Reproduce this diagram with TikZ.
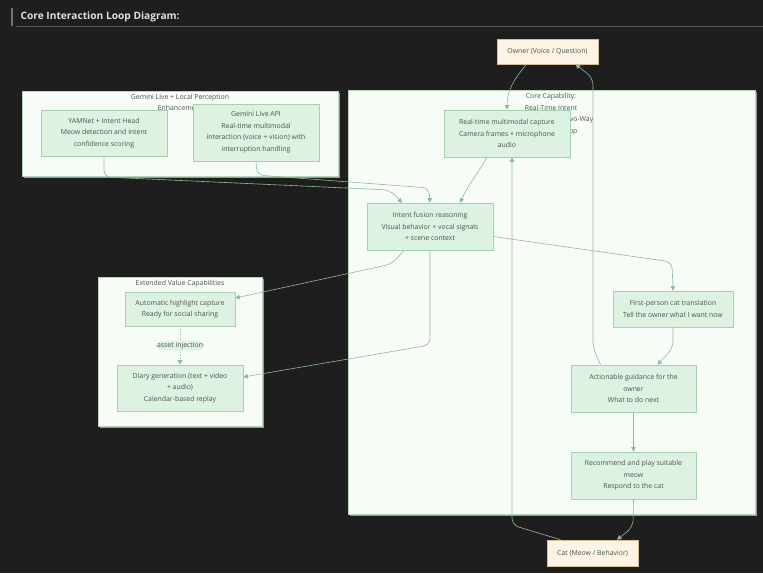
\documentclass[tikz,border=0pt]{standalone}
\usepackage{fontspec}
\setmainfont{Open Sans}
\usepackage{tikz}
\usetikzlibrary{positioning,arrows.meta,shadows}

\definecolor{bgdark}{HTML}{1E1E1E}
\definecolor{clusterfill}{HTML}{F8FCF7}
\definecolor{clusterline}{HTML}{B9D3BC}
\definecolor{stepfill}{HTML}{DDF2E0}
\definecolor{stepline}{HTML}{A6D0AE}
\definecolor{actorfill}{HTML}{FEF3E4}
\definecolor{actorline}{HTML}{D8BC96}
\definecolor{edgegreen}{HTML}{8DBB9A}
\definecolor{inktext}{HTML}{4A564D}

\begin{document}
\begin{tikzpicture}[x=1pt,y=-1pt,
  every node/.style={font=\fontsize{6.9}{11.5}\selectfont,text=inktext,align=center},
  stepbox/.style={draw=stepline,fill=stepfill,line width=0.6pt,inner sep=2pt,
    drop shadow={opacity=0.18,shadow xshift=0.8pt,shadow yshift=-0.8pt}},
  actorbox/.style={draw=actorline,fill=actorfill,line width=0.6pt,inner sep=2pt,
    drop shadow={opacity=0.25,shadow xshift=0.8pt,shadow yshift=-0.8pt}},
  groupbox/.style={draw=clusterline,fill=clusterfill,line width=0.6pt,
    drop shadow={fill=black!40,opacity=1,shadow xshift=1.6pt,shadow yshift=-1.6pt}},
  edge/.style={draw=edgegreen,line width=0.6pt,rounded corners=7pt,
    -{Triangle[length=4.5pt,width=4.5pt]}}]
  \fill[bgdark] (0,0) rectangle (763,573);
  \useasboundingbox (0,0) rectangle (763,573);
  \draw[line width=2pt,draw=black!55] (12,8) -- (12,26);
  \draw[line width=0.6pt,draw=black!65] (16,26) -- (763,26);
  \node[anchor=west,text=white!88!black,font=\fontsize{10.2}{12}\selectfont\bfseries] (title) at (17,17) {Core Interaction Loop Diagram:};

  \path[groupbox] (22,91) rectangle (338,176);
  \node (gemlabel) at (180,102.5) {Gemini Live + Local Perception\\Enhancement};
  \path[groupbox] (348,90) rectangle (755,514);
  \node (corelabel) at (551,114) {Core Capability:\\Real-Time Intent\\Understanding + Two-Way\\Interaction Loop};
  \path[groupbox] (98,277) rectangle (262,426);
  \node (extlabel) at (180,284) {Extended Value Capabilities};

  \node[actorbox,minimum width=101pt,minimum height=25pt] (owner) at (547.5,51.5) {Owner (Voice / Question)};
  \node[stepbox,minimum width=126pt,minimum height=46pt] (yamnet) at (104,133) {YAMNet + Intent Head\\Meow detection and intent\\confidence scoring};
  \node[stepbox,minimum width=126pt,minimum height=57pt] (liveapi) at (256,132.5) {Gemini Live API\\Real-time multimodal\\interaction (voice + vision) with\\interruption handling};
  \node[stepbox,minimum width=126pt,minimum height=47pt] (capture) at (507,133.5) {Real-time multimodal capture\\Camera frames + microphone\\audio};
  \node[stepbox,minimum width=126pt,minimum height=47pt] (fusion) at (430,226.5) {Intent fusion reasoning\\Visual behavior + vocal signals\\+ scene context};
  \node[stepbox,minimum width=110pt,minimum height=34pt] (highlight) at (180,309) {Automatic highlight capture\\Ready for social sharing};
  \node[stepbox,minimum width=126pt,minimum height=46pt] (diary) at (180,388) {Diary generation (text + video\\+ audio)\\Calendar-based replay};
  \node[stepbox,minimum width=120pt,minimum height=36pt] (catvoice) at (673,309) {First-person cat translation\\Tell the owner what I want now};
  \node[stepbox,minimum width=125pt,minimum height=47pt] (guidance) at (633.5,388.5) {Actionable guidance for the\\owner\\What to do next};
  \node[stepbox,minimum width=125pt,minimum height=47pt] (replay) at (633.5,475.5) {Recommend and play suitable\\meow\\Respond to the cat};
  \node[actorbox,minimum width=91pt,minimum height=26pt] (cat) at (592.5,553) {Cat (Meow / Behavior)};

  \draw[edge] ([xshift=-21pt]owner.south) to[out=-130,in=90] (capture.north);
  \draw[edge] ([xshift=-20pt]capture.south) to[out=-120,in=65] ([xshift=30pt]fusion.north);
  \draw[edge] (yamnet.south) -- (104,177) -- (390,190) -- ([xshift=-28pt]fusion.north);
  \draw[edge] (liveapi.south) -- (257,175) -- (429,188) -- (fusion.north);
  \draw[edge] ([yshift=-10pt]fusion.east) -- (672,262) -- (catvoice.north);
  \draw[edge] ([xshift=-26pt]fusion.south) -- (392,264) -- ([yshift=11pt]highlight.east);
  \draw[edge] (fusion.south) -- (430,345) -- ([yshift=11pt]diary.east);
  \draw[edge] (catvoice.south) -- (673,348) -- ([xshift=24pt]guidance.north);
  \draw[edge] (guidance.south) -- (replay.north);
  \draw[edge] (replay.south) -- (633,527) -- ([xshift=24.5pt]cat.north);
  \draw[edge] ([xshift=-32pt]cat.north) -- (512,525) -- ([xshift=5pt]capture.south);
  \draw[edge] ([xshift=-33pt]guidance.north) -- (593,348) -- (593,78) -- ([xshift=28pt]owner.south);
  \draw[edge,dotted] (highlight.south) -- node[fill=stepfill,inner sep=1.5pt] (assetlabel) {asset injection} (diary.north);
\end{tikzpicture}
\end{document}
